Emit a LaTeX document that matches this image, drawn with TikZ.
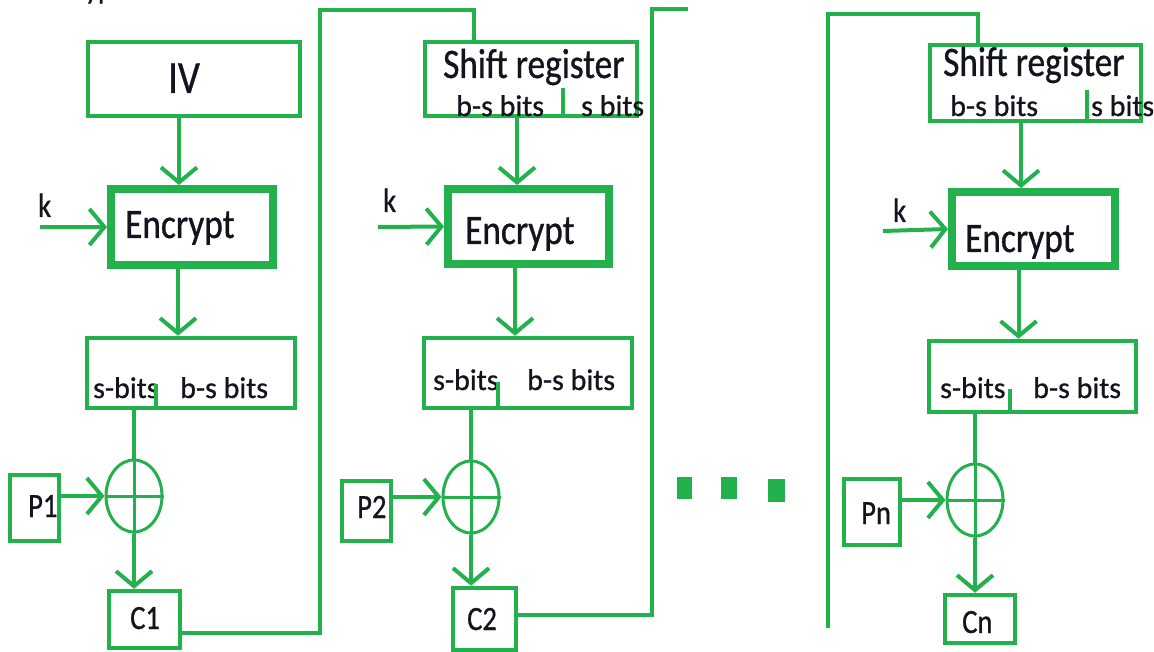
\documentclass[tikz,border=0pt]{standalone}
\usepackage{fontspec}
\setmainfont{Carlito}[FakeBold=0.8]
\newfontfamily\plainfont{Carlito}[FakeBold=0.8]
\newfontfamily\narrowfont{Carlito}[FakeStretch=0.84,FakeBold=0.8]
\usetikzlibrary{arrows.meta,shapes.geometric}
\definecolor{cfbgreen}{RGB}{34,177,76}
\definecolor{inkdark}{RGB}{20,20,30}
\tikzset{
  box/.style={draw=cfbgreen, line width=4.5pt, rectangle, inner sep=0pt},
  encbox/.style={draw=cfbgreen, line width=8pt, rectangle, inner sep=0pt},
  xorring/.style={draw=cfbgreen, line width=3pt, ellipse, inner sep=0pt,
    minimum width=56pt, minimum height=72pt},
  wire/.style={draw=cfbgreen, line width=4pt},
  thinwire/.style={draw=cfbgreen, line width=3pt},
  arr/.style={wire, -{Straight Barb[length=15pt,width=36pt]}},
  txt/.style={inner sep=0pt, anchor=base west, text=inkdark},
  bigtxt/.style={txt, font=\narrowfont\fontsize{42}{42}\selectfont},
  midtxt/.style={txt, font=\narrowfont\fontsize{34}{34}\selectfont},
  smalltxt/.style={txt, font=\plainfont\fontsize{30}{30}\selectfont},
  dotmark/.style={fill=cfbgreen}
}
\begin{document}
\begin{tikzpicture}[x=1pt,y=-1pt]
\useasboundingbox (0,0) rectangle (1154,652);

% heading, partly above the page edge
\node[txt, font=\plainfont\fontsize{28}{28}\selectfont] (title) at (35,-1) {Encryption};

% ---------- first stage ----------
\node[box, minimum width=212pt, minimum height=74pt] (iv) at (194,79) {};
\node[bigtxt, font=\narrowfont\fontsize{46}{46}\selectfont] (ivt) at (168,93) {IV};
\node[encbox, minimum width=162pt, minimum height=76pt] (enc1) at (192,227) {};
\node[bigtxt] (enc1t) at (125,238) {Encrypt};
\node[box, minimum width=208pt, minimum height=70pt] (sb1) at (191,373) {};
\node[smalltxt] (sb1a) at (93,398) {s-bits};
\node[smalltxt] (sb1b) at (180,398) {b-s bits};
\node[xorring] (x1) at (134,496) {};
\node[box, minimum width=49pt, minimum height=66pt] (p1) at (34.5,508) {};
\node[midtxt] (p1t) at (28,517) {P1};
\node[box, minimum width=71pt, minimum height=57pt] (c1) at (144.5,619.5) {};
\node[midtxt] (c1t) at (130,629) {C1};
\node[midtxt] (k1) at (38,217) {k};
\coordinate (k1src) at (40,227);

\draw[arr] ([xshift=-15pt]iv.south) -- ([xshift=-15pt]iv.south |- enc1.north);
\draw[arr] (k1src) -- (enc1.west);
\draw[arr] ([xshift=-14pt]enc1.south) -- ([xshift=-14pt]enc1.south |- sb1.north);
\draw[wire] ([xshift=-35pt]sb1.south) -- ++(0,-26);
\draw[wire] (x1.north |- sb1.south) -- (x1.north);
\draw[thinwire] (x1.north) -- (x1.south);
\draw[thinwire] (x1.west) -- (x1.east);
\draw[arr] (p1.east |- x1.west) -- (x1.west);
\draw[arr] (x1.south) -- (x1.south |- c1.north);

% ---------- second stage ----------
\node[box, minimum width=212pt, minimum height=74pt] (sr2) at (531,79) {};
\node[bigtxt] (sr2t) at (443,78) {Shift register};
\node[smalltxt] (sr2a) at (456,116) {b-s bits};
\node[smalltxt] (sr2b) at (581,116) {s bits};
\node[encbox, minimum width=161pt, minimum height=75pt] (enc2) at (528.5,226.5) {};
\node[bigtxt] (enc2t) at (465,244) {Encrypt};
\node[box, minimum width=208pt, minimum height=70pt] (sb2) at (528,373) {};
\node[smalltxt] (sb2a) at (433,390) {s-bits};
\node[smalltxt] (sb2b) at (527,390) {b-s bits};
\node[xorring] (x2) at (471,497) {};
\node[box, minimum width=49pt, minimum height=60pt] (p2) at (366.5,511) {};
\node[midtxt] (p2t) at (357,518) {P2};
\node[box, minimum width=63pt, minimum height=62pt] (c2) at (484.5,619) {};
\node[midtxt] (c2t) at (467,630) {C2};
\node[midtxt] (k2) at (383,212) {k};
\coordinate (k2src) at (378,227);

% feedback from C1 into the second shift register
\coordinate (fb1top) at (320,10);
\draw[wire] ([yshift=-13pt]c1.east) -| (fb1top) -| ([xshift=-57pt]sr2.north);

\draw[wire] ([xshift=32pt]sr2.south) -- ++(0,-30);
\draw[arr] ([xshift=-14pt]sr2.south) -- ([xshift=-14pt]sr2.south |- enc2.north);
\draw[arr] (k2src) -- (enc2.west);
\draw[arr] ([xshift=-13.5pt]enc2.south) -- ([xshift=-13.5pt]enc2.south |- sb2.north);
\draw[wire] ([xshift=-30pt]sb2.south) -- ++(0,-28);
\draw[wire] (x2.north |- sb2.south) -- (x2.north);
\draw[thinwire] (x2.north) -- (x2.south);
\draw[thinwire] (x2.west) -- (x2.east);
\draw[arr] (p2.east |- x2.west) -- (x2.west);
\draw[arr] (x2.south) -- (x2.south |- c2.north);

% feedback from C2 towards the next stage
\coordinate (fb2top) at (652,9);
\coordinate (fb2end) at (688,9);
\draw[wire] ([yshift=4pt]c2.east) -| (fb2top) -- (fb2end);

% ---------- ellipsis between stages ----------
\fill[dotmark] (677,477) rectangle (692,499);
\fill[dotmark] (721,477) rectangle (737,499);
\fill[dotmark] (768,479) rectangle (785,502);

% ---------- last stage ----------
\node[box, minimum width=211pt, minimum height=76pt] (srn) at (1035.5,83) {};
\node[bigtxt] (srnt) at (943,76) {Shift register};
\node[smalltxt] (srna) at (950,116) {b-s bits};
\node[smalltxt] (srnb) at (1091,116) {s bits};
\node[encbox, minimum width=163pt, minimum height=74pt] (encn) at (1033.5,229) {};
\node[bigtxt] (encnt) at (965,252) {Encrypt};
\node[box, minimum width=207pt, minimum height=71pt] (sbn) at (1032.5,376.5) {};
\node[smalltxt] (sbna) at (940,398) {s-bits};
\node[smalltxt] (sbnb) at (1033,398) {b-s bits};
\node[xorring] (xn) at (975,500) {};
\node[box, minimum width=56pt, minimum height=66pt] (pn) at (872,512) {};
\node[midtxt] (pnt) at (861,524) {Pn};
\node[box, minimum width=70pt, minimum height=48pt] (cn) at (980,619) {};
\node[midtxt] (cnt) at (962,633) {Cn};
\node[midtxt] (kn) at (893,222) {k};
\coordinate (knsrc) at (883,231);

\coordinate (fbnbot) at (828,628);
\coordinate (fbntop) at (828,14);
\draw[wire] (fbnbot) -- (fbntop) -| ([xshift=-57.5pt]srn.north);

\draw[wire] ([xshift=51.5pt]srn.south) -- ++(0,-33);
\draw[arr] ([xshift=-14.5pt]srn.south) -- ([xshift=-14.5pt]srn.south |- encn.north);
\draw[arr] (knsrc) -- (encn.west);
\draw[arr] ([xshift=-15pt]encn.south) -- ([xshift=-15pt]encn.south |- sbn.north);
\draw[wire] ([xshift=-22.5pt]sbn.south) -- ++(0,-25);
\draw[wire] (xn.north |- sbn.south) -- (xn.north);
\draw[thinwire] (xn.north) -- (xn.south);
\draw[thinwire] (xn.west) -- (xn.east);
\draw[arr] (pn.east |- xn.west) -- (xn.west);
\draw[arr] (xn.south) -- (xn.south |- cn.north);
\end{tikzpicture}
\end{document}
